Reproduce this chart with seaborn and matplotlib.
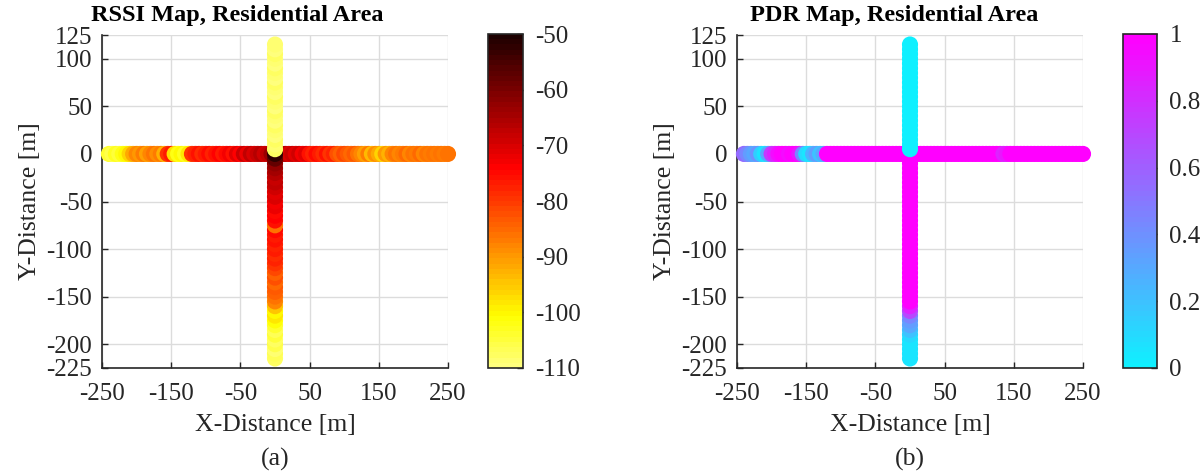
import numpy as np
import pandas as pd
import matplotlib
matplotlib.use("Agg")
import matplotlib.pyplot as plt
import seaborn as sns
from matplotlib.colors import ListedColormap, Normalize
from matplotlib.cm import ScalarMappable

sns.set_theme(style="white")
plt.rcParams['font.family'] = ['Liberation Serif', 'DejaVu Serif']
plt.rcParams['axes.unicode_minus'] = False

# ---------------- data ----------------
# horizontal street (y = 0), x positions in metres
h_x = [-240, -235, -230, -225, -220, -215, -210, -205, -200, -195, -190, -185, -180,
       -175, -170, -165, -160, -155, -150, -145, -140, -135, -130, -125, -120, -115,
       -110, -105, -100, -95, -90, -85, -80, -75, -70, -65, -60, -55, -50, -45, -40,
       -35, -30, -25, -20, -15, -10, -5, 0, 5, 10, 15, 20, 25, 30, 35, 40, 45, 50,
       55, 60, 65, 70, 75, 80, 85, 90, 95, 100, 105, 110, 115, 120, 125, 130, 135,
       140, 145, 150, 155, 160, 165, 170, 175, 180, 185, 190, 195, 200, 205, 210,
       215, 220, 225, 230, 235, 240, 245, 250]
h_rssi = [-104, -106, -103, -105, -102, -100, -96, -92, -88, -90, -87, -91, -88,
          -86, -89, -87, -93, -80, -77, -97, -102, -100, -103, -98, -80, -78,
          -76, -79, -77, -75, -78, -76, -74, -77, -75, -73, -76, -71, -74, -68, -72,
          -67, -70, -68, -66, -69, -67, -64, -60, -66, -68, -66, -70, -68, -71, -69, -73, -71, -76,
          -78, -75, -77, -79, -76, -80, -78, -82, -84, -81, -83, -85, -83, -86, -88, -91, -87,
          -94, -89, -92, -96, -90, -93, -88, -86, -88, -87, -85, -88, -86, -87, -85,
          -88, -86, -87, -86, -87, -86, -87, -86]
h_pdr = [0.55, 0.45, 0.35, 0.30, 0.40, 0.15, 0.05, 0.30, 0.75, 0.85, 0.95, 1.0, 1.0,
         0.95, 1.0, 1.0, 0.90, 0.45, 0.10, 0.05, 0.25, 0.35, 0.20, 0.30, 1.0, 1.0,
         1.0, 1.0, 1.0, 1.0, 1.0, 1.0, 1.0, 1.0, 1.0, 1.0, 1.0, 1.0, 1.0, 1.0, 1.0,
         1.0, 1.0, 1.0, 1.0, 1.0, 1.0, 1.0, 1.0, 1.0, 1.0, 1.0, 1.0, 1.0, 1.0, 1.0, 1.0, 1.0, 1.0,
         1.0, 1.0, 1.0, 1.0, 1.0, 1.0, 1.0, 1.0, 1.0, 1.0, 1.0, 1.0, 1.0, 1.0, 1.0, 1.0, 0.85,
         0.90, 1.0, 1.0, 1.0, 1.0, 1.0, 1.0, 1.0, 1.0, 1.0, 1.0, 1.0, 1.0, 1.0, 1.0,
         1.0, 1.0, 1.0, 1.0, 1.0, 1.0, 1.0, 1.0]

# vertical street (x = 0), y positions in metres, bottom to top
v_y = [-215, -210, -205, -200, -195, -190, -185, -180, -175, -170, -165, -160, -155,
       -150, -145, -140, -135, -130, -125, -120, -115, -110, -105, -100, -95, -90,
       -85, -80, -75, -70, -65, -60, -55, -50, -45, -40, -35, -30, -25, -20, -15,
       -10, -5, 0, 5, 10, 15, 20, 25, 30, 35, 40, 45, 50, 55, 60, 65, 70, 75, 80,
       85, 90, 95, 100, 105, 110, 115]
v_rssi = [-108, -107, -109, -106, -108, -105, -107, -104, -101, -98, -100, -95, -88,
          -86, -84, -83, -85, -82, -84, -81, -80, -78, -79, -77, -78, -76,
          -77, -75, -86, -76, -74, -75, -72, -73, -70, -71, -69, -67, -68, -66, -65,
          -63, -58, -52, -108, -109, -108, -110, -109, -108, -110, -109, -108, -110, -109, -108,
          -110, -109, -108, -110, -109, -108, -110, -109, -108, -110, -109]
v_pdr = [0.05, 0.05, 0.05, 0.05, 0.05, 0.10, 0.20, 0.30, 0.35, 0.45, 0.70, 0.85, 1.0,
         1.0, 1.0, 1.0, 1.0, 1.0, 1.0, 1.0, 1.0, 1.0, 1.0, 1.0, 1.0, 1.0,
         1.0, 1.0, 1.0, 1.0, 1.0, 1.0, 1.0, 1.0, 1.0, 1.0, 1.0, 1.0, 1.0, 1.0, 1.0,
         1.0, 1.0, 1.0, 0.0, 0.0, 0.0, 0.0, 0.0, 0.0, 0.0, 0.0, 0.0, 0.0, 0.0, 0.0,
         0.0, 0.0, 0.0, 0.0, 0.0, 0.0, 0.0, 0.0, 0.0, 0.0, 0.0]

x_ticks = [-250, -150, -50, 50, 150, 250]
y_ticks = [-225, -200, -150, -100, -50, 0, 50, 100, 125]
rssi_ticks = [-110, -100, -90, -80, -70, -60, -50]
pdr_ticks = [0, 0.2, 0.4, 0.6, 0.8, 1]
pdr_ticklabels = ['0', '0.2', '0.4', '0.6', '0.8', '1']

df = pd.concat([
    pd.DataFrame({'x': h_x, 'y': [0] * len(h_x), 'rssi': h_rssi, 'pdr': h_pdr}),
    pd.DataFrame({'x': [0] * len(v_y), 'y': v_y, 'rssi': v_rssi, 'pdr': v_pdr}),
], ignore_index=True)

# ---------------- colormaps ----------------
# reversed "hot": pale yellow at the low end, near-black at the high end
hot_cmap = ListedColormap(plt.get_cmap('hot')(np.linspace(0.87, 0.03, 64)))
cool_cmap = ListedColormap(plt.get_cmap('cool')(np.linspace(0.06, 1.0, 64)))

W, H = 1204, 475
fig = plt.figure(figsize=(W / 100, H / 100), dpi=100)

def fx(px):
    return px / W

def fy(py):
    return 1 - py / H

panels = [
    dict(ax_px=(102, 35, 448, 368), cb_px=(488, 34, 523, 368), col='rssi',
         cmap=hot_cmap, norm=(-110, -50), title='RSSI Map, Residential Area',
         title_x=237, cticks=rssi_ticks, cticklabels=[str(t) for t in rssi_ticks],
         cap='(a)'),
    dict(ax_px=(737, 35, 1083, 368), cb_px=(1123, 34, 1157, 368), col='pdr',
         cmap=cool_cmap, norm=(0, 1), title='PDR Map, Residential Area',
         title_x=894, cticks=pdr_ticks, cticklabels=pdr_ticklabels, cap='(b)'),
]

for p in panels:
    l, t, r, b = p['ax_px']
    ax = fig.add_axes([fx(l), fy(b), fx(r - l), (b - t) / H])
    ax.set_axisbelow(True)
    sns.scatterplot(data=df, x='x', y='y', hue=p['col'], palette=p['cmap'],
                    hue_norm=p['norm'], s=135, linewidth=0, legend=False, ax=ax,
                    zorder=3, clip_on=False)
    ax.set_xlim(-250, 250)
    ax.set_ylim(-225, 125)
    ax.set_xticks(x_ticks)
    ax.set_yticks(y_ticks)
    ax.grid(True, color='#dcdcdc', linewidth=1.0)
    for s in ['top', 'right']:
        ax.spines[s].set_visible(False)
    for s in ['left', 'bottom']:
        ax.spines[s].set_color('#262626')
        ax.spines[s].set_linewidth(1.2)
    ax.tick_params(direction='in', length=4, width=1, colors='#262626',
                   labelsize=18, left=True, bottom=True)
    ax.tick_params(axis='x', pad=11)
    ax.tick_params(axis='y', pad=7)
    ax.set_xlabel('X-Distance [m]', fontsize=18.5, color='#262626', labelpad=6)
    ax.set_ylabel('Y-Distance [m]', fontsize=18.5, color='#262626', labelpad=4)
    fig.text(fx(p['title_x']), fy(15), p['title'], fontsize=17.5, fontweight='bold',
             color='black', ha='center', va='center')
    fig.text(fx((l + r) / 2), fy(459), p['cap'], fontsize=18.5, color='#262626',
             ha='center', va='center')

    cl, ct, cr, cb = p['cb_px']
    cax = fig.add_axes([fx(cl), fy(cb), fx(cr - cl), (cb - ct) / H])
    sm = ScalarMappable(norm=Normalize(*p['norm']), cmap=p['cmap'])
    cbar = fig.colorbar(sm, cax=cax)
    cbar.set_ticks(p['cticks'])
    cbar.set_ticklabels(p['cticklabels'])
    cbar.outline.set_edgecolor('#262626')
    cbar.outline.set_linewidth(1.2)
    cax.tick_params(direction='in', length=4, width=1, colors='#262626',
                    labelsize=18, pad=9)

fig.savefig('out.png', dpi=100)
